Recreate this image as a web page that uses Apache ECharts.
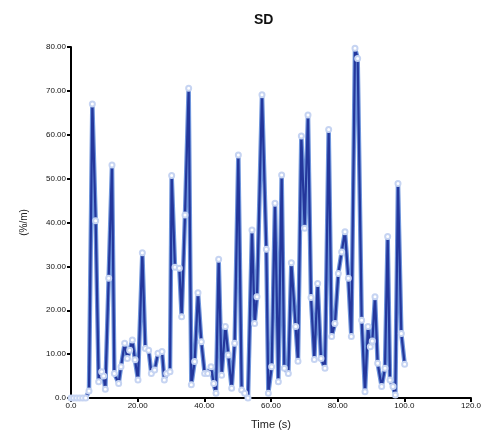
<!DOCTYPE html>
<html>
<head>
<meta charset="utf-8">
<script src="https://cdn.jsdelivr.net/npm/echarts@6/dist/echarts.min.js"></script>
<style>
  html, body { margin: 0; padding: 0; background: #fff; }
  #chart { width: 484px; height: 437px; }
</style>
</head>
<body>
<div id="chart"></div>
<script>
// Time stamps (s) and SD readings (%/m)
const times = [
  0.0, 0.8, 1.7, 2.6, 3.5, 4.4, 5.4, 6.4, 7.4, 8.3,
  9.2, 9.8, 10.3, 11.3, 12.3, 13.0, 14.3, 15.0, 16.1, 16.9,
  17.6, 18.4, 19.2, 20.1, 21.4, 22.3, 23.3, 24.1, 25.1, 26.1,
  27.3, 28.0, 28.7, 29.7, 30.2, 31.2, 32.5, 33.2, 34.2, 35.3,
  36.1, 37.1, 38.1, 39.1, 40.1, 41.0, 42.0, 42.8, 43.5, 44.3,
  45.2, 46.3, 47.2, 48.2, 49.1, 50.2, 51.2, 52.1, 53.1, 54.3,
  55.1, 55.8, 57.3, 58.6, 59.2, 60.2, 61.2, 62.2, 63.2, 64.0,
  65.2, 66.1, 67.4, 68.1, 69.1, 70.1, 71.1, 72.0, 73.0, 74.0,
  75.0, 76.2, 77.3, 78.2, 79.2, 80.2, 81.2, 82.2, 83.2, 84.1,
  85.2, 86.0, 87.2, 88.2, 89.1, 89.8, 90.4, 91.2, 92.0, 93.2,
  94.2, 95.0, 95.7, 96.6, 97.3, 98.1, 99.1, 100.1
];
const sdValues = [
  0, 0, 0, 0, 0, 0, 1.6, 67.0, 40.4, 3.7,
  6.0, 5.0, 2.0, 27.3, 53.1, 5.6, 3.3, 7.1, 12.5, 9.0,
  10.9, 13.2, 8.7, 4.1, 33.1, 11.3, 10.9, 5.6, 6.4, 10.2,
  10.6, 4.1, 5.6, 6.0, 50.7, 29.8, 29.6, 18.5, 41.7, 70.6,
  3.0, 8.3, 24.0, 12.8, 5.6, 5.6, 7.1, 3.3, 1.1, 31.6,
  5.2, 16.3, 9.8, 2.2, 12.5, 55.4, 1.8, 1.1, 0, 38.3,
  17.0, 23.1, 69.1, 33.9, 1.1, 7.1, 44.4, 3.7, 50.8, 6.8,
  5.6, 30.8, 16.3, 8.4, 59.7, 38.7, 64.5, 22.9, 8.8, 26.1,
  9.0, 6.8, 61.2, 14.0, 17.0, 28.4, 33.3, 37.9, 27.3, 14.0,
  79.7, 77.4, 17.7, 1.4, 16.3, 11.7, 13.0, 23.1, 7.9, 2.6,
  6.8, 36.8, 4.1, 2.6, 0.7, 48.9, 14.7, 7.7
];

const points = times.map((t, i) => [t, sdValues[i]]);

function fmtTick(v) {
  if (v === 0) return '0.0';
  return v >= 100 ? v.toFixed(1) : v.toFixed(2);
}

const FONT = 'Liberation Sans, Arial, sans-serif';

const chart = echarts.init(document.getElementById('chart'), null, { renderer: 'canvas' });
chart.setOption({
  animation: false,
  backgroundColor: '#ffffff',
  title: {
    text: 'SD',
    left: 249,
    top: 8,
    textStyle: { fontFamily: FONT, fontSize: 14, fontWeight: 'bold', color: '#111' }
  },
  grid: { left: 71, right: 6, top: 47, bottom: 39, containLabel: false },
  xAxis: {
    type: 'value',
    min: 0, max: 120, interval: 20,
    name: 'Time (s)',
    nameLocation: 'middle',
    nameGap: 21,
    nameTextStyle: { fontFamily: FONT, fontSize: 11, color: '#222' },
    axisLine: { lineStyle: { color: '#000', width: 2 } },
    axisTick: { length: 4, lineStyle: { color: '#000', width: 2 } },
    axisLabel: { formatter: fmtTick, margin: 4, fontFamily: FONT, fontSize: 8, color: '#111' },
    splitLine: { show: false }
  },
  yAxis: {
    type: 'value',
    min: 0, max: 80, interval: 10,
    name: '(%/m)',
    nameLocation: 'middle',
    nameGap: 42,
    nameRotate: 90,
    nameTextStyle: { fontFamily: FONT, fontSize: 10, color: '#222' },
    axisLine: { show: true, lineStyle: { color: '#000', width: 2 } },
    axisTick: { show: true, length: 4, lineStyle: { color: '#000', width: 2 } },
    axisLabel: { formatter: fmtTick, margin: 5, fontFamily: FONT, fontSize: 8, color: '#111' },
    splitLine: { show: false }
  },
  series: [
    {
      // soft light-blue halo under the trace
      type: 'line',
      data: points,
      symbol: 'none',
      lineStyle: { color: '#6f95dc', width: 4.5 },
      z: 2,
      silent: true
    },
    {
      type: 'line',
      data: points,
      symbol: 'emptyCircle',
      symbolSize: 5,
      itemStyle: { color: '#c6d4f2', borderColor: '#3f5fbd', borderWidth: 1.3 },
      lineStyle: { color: '#24379c', width: 2.2 },
      z: 3
    }
  ]
});
</script>
</body>
</html>
